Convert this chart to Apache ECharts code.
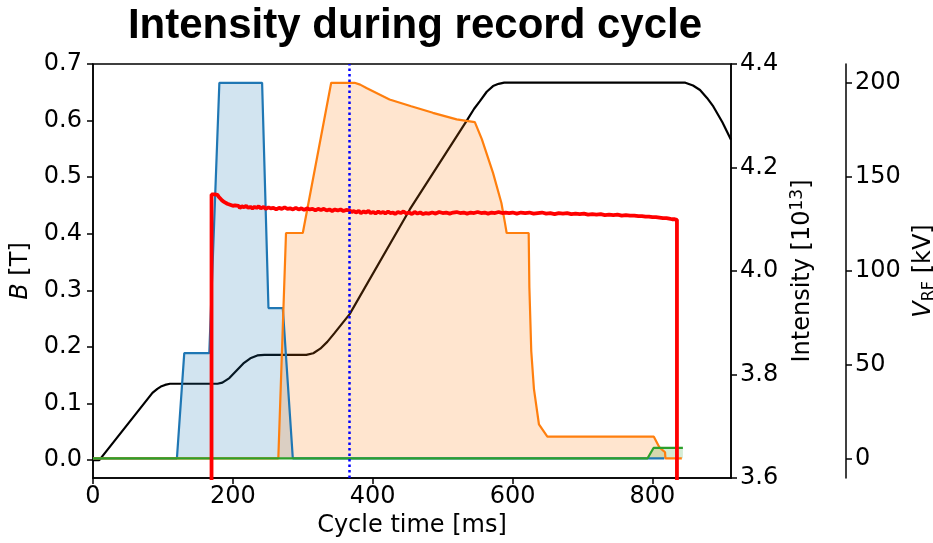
<!DOCTYPE html>
<html>
<head>
<meta charset="utf-8">
<script src="https://cdn.jsdelivr.net/npm/echarts@6/dist/echarts.min.js"></script>
<style>html,body{margin:0;padding:0;background:#fff;}#c{width:933px;height:543px;}</style>
</head>
<body>
<div id="c"></div>
<script>
// ---- data ----
const xTicks = [0, 200, 400, 600, 800];
const bTicks = [0.0, 0.1, 0.2, 0.3, 0.4, 0.5, 0.6, 0.7];
const iTicks = [3.6, 3.8, 4.0, 4.2, 4.4];
const vTicks = [0, 50, 100, 150, 200];

// B field [T]
const bT = [0, 9, 85, 92, 97, 103, 110, 118, 178, 185, 195, 205, 215, 225, 235, 245, 305, 315, 325, 335, 345, 367, 453, 534, 545, 553, 563, 572, 580, 588, 847, 858, 868, 878, 887, 900, 912.3];
const bV = [0, 0, 0.119, 0.126, 0.130, 0.133, 0.135, 0.135, 0.135, 0.137, 0.145, 0.158, 0.171, 0.180, 0.185, 0.186, 0.186, 0.189, 0.197, 0.209, 0.224, 0.258, 0.443, 0.599, 0.621, 0.634, 0.651, 0.661, 0.665, 0.667, 0.667, 0.662, 0.654, 0.640, 0.625, 0.597, 0.566];

// RF voltages [kV]
const blueT = [0, 120, 130.5, 166.3, 180.7, 241.8, 250.9, 271.4, 285.7, 817];
const blueV = [0, 0, 56, 56, 200, 200, 80, 80, 0, 0];
const orangeT = [0, 265, 276, 300, 340.6, 374, 382, 391, 424, 455, 486, 520, 546, 556, 572, 584, 589, 591.5, 623, 624, 626.7, 630.5, 637.7, 649.7, 802, 810, 818, 818.5, 842];
const orangeV = [0, 0, 120, 120, 200, 200, 199, 197.2, 191.1, 187.5, 184, 180.5, 179, 170, 152, 136, 125.5, 120, 120, 91, 57, 37, 18, 11.5, 11.5, 5.8, 3.2, 0, 0];
const greenT = [0, 793, 801.5, 843.5];
const greenV = [0, 0, 5.5, 5.5];

// Intensity [1e13]
const redT = [169.5,169.5,172,174,176,178,180,182,184,186,188,190,192,194,196,198,200,203,205,208,210,213,216,219,222,225,228,231,234,237,240,244,247,251,254,258,262,266,270,274,278,282,286,290,294,298,302,306,310,314,318,322,326,330,334,338,342,346,350,354,358,362,364,367,370,373,376,380,383,387,390,394,397,401,404,408,411,415,418,422,425,429,432,436,440,444,448,452,456,460,464,468,472,476,480,485,490,495,500,505,510,515,520,525,530,535,540,545,550,555,560,565,570,575,580,585,590,595,600,606,612,618,624,630,636,642,648,654,660,666,672,678,684,690,696,702,708,714,720,726,732,738,744,750,756,762,768,774,780,785,790,795,800,805,810,815,820,824,828,832,835,835];
const redI = [3.5,4.148,4.145,4.148,4.146,4.147,4.143,4.140,4.137,4.136,4.133,4.134,4.130,4.131,4.128,4.129,4.126,4.127,4.124,4.126,4.122,4.125,4.123,4.126,4.122,4.124,4.121,4.124,4.122,4.125,4.121,4.124,4.120,4.123,4.121,4.122,4.119,4.122,4.120,4.123,4.120,4.121,4.119,4.122,4.119,4.121,4.118,4.121,4.119,4.120,4.117,4.120,4.118,4.120,4.117,4.119,4.116,4.119,4.117,4.119,4.116,4.118,4.119,4.117,4.114,4.116,4.113,4.116,4.112,4.115,4.113,4.116,4.112,4.114,4.111,4.115,4.112,4.114,4.111,4.115,4.112,4.113,4.110,4.114,4.112,4.115,4.111,4.113,4.110,4.114,4.111,4.113,4.110,4.112,4.111,4.113,4.111,4.114,4.112,4.113,4.111,4.113,4.114,4.112,4.113,4.111,4.113,4.112,4.114,4.112,4.113,4.111,4.113,4.112,4.114,4.112,4.113,4.112,4.113,4.111,4.113,4.112,4.113,4.111,4.112,4.113,4.111,4.112,4.110,4.112,4.111,4.112,4.110,4.111,4.110,4.111,4.109,4.110,4.109,4.110,4.108,4.109,4.108,4.109,4.107,4.108,4.107,4.107,4.106,4.106,4.105,4.105,4.104,4.104,4.103,4.102,4.102,4.101,4.100,4.100,4.099,3.5];

const markerTime = 367;

const zip = (a, b) => a.map((v, i) => [v, b[i]]);
const FONT = 'DejaVu Sans';
const axisCommon = {
  splitLine: { show: false },
  axisLine: { show: true, onZero: false, lineStyle: { color: '#000', width: 1.5 } },
  axisTick: { show: true, inside: false, length: 6, lineStyle: { color: '#000', width: 1.5 } },
  nameLocation: 'middle',
  nameTextStyle: { fontFamily: FONT, fontSize: 24, color: '#000' }
};

const chart = echarts.init(document.getElementById('c'), null, { renderer: 'canvas' });
chart.setOption({
  animation: false,
  backgroundColor: '#fff',
  title: {
    text: 'Intensity during record cycle',
    left: 410, top: 0, textAlign: 'center',
    textStyle: { fontFamily: 'Liberation Sans', fontWeight: 'bold', fontSize: 42, color: '#000' }
  },
  grid: { left: 93, right: 202, top: 64, bottom: 65, show: true, borderColor: '#000', borderWidth: 1.5, backgroundColor: 'transparent', outerBoundsMode: 'none', containLabel: false },
  xAxis: Object.assign({}, axisCommon, {
    type: 'value', min: 0, max: 912.3,
    name: 'Cycle time [ms]', nameGap: 36,
    axisTick: Object.assign({}, axisCommon.axisTick, { customValues: xTicks }),
    axisLabel: { customValues: xTicks, fontFamily: FONT, fontSize: 24, color: '#000', margin: 7 }
  }),
  yAxis: [
    Object.assign({}, axisCommon, {
      type: 'value', position: 'left', min: -0.0315, max: 0.7,
      name: '{i|B} [T]', nameRotate: 90, nameGap: 50,
      nameTextStyle: { fontFamily: FONT, fontSize: 24, color: '#000', rich: { i: { fontFamily: FONT, fontSize: 24, fontStyle: 'italic', color: '#000' } } },
      axisTick: Object.assign({}, axisCommon.axisTick, { customValues: bTicks }),
      axisLabel: { customValues: bTicks, formatter: v => v.toFixed(1), fontFamily: FONT, fontSize: 24, color: '#000', margin: 11 }
    }),
    Object.assign({}, axisCommon, {
      type: 'value', position: 'right', min: 3.6, max: 4.4,
      name: 'Intensity [10{sup|13}]', nameRotate: 90, nameGap: 58,
      nameTextStyle: { fontFamily: FONT, fontSize: 24, color: '#000', rich: { sup: { fontFamily: FONT, fontSize: 17, color: '#000', verticalAlign: 'top', padding: [0, 0, 10, 0] } } },
      axisTick: Object.assign({}, axisCommon.axisTick, { customValues: iTicks }),
      axisLabel: { customValues: iTicks, formatter: v => v.toFixed(1), fontFamily: FONT, fontSize: 24, color: '#000', margin: 9 }
    }),
    Object.assign({}, axisCommon, {
      type: 'value', position: 'right', offset: 115, min: -10.5, max: 210,
      name: '{i|V}{sub|RF} [kV]', nameRotate: 90, nameGap: 53,
      nameTextStyle: { fontFamily: FONT, fontSize: 24, color: '#000', rich: {
        i: { fontFamily: FONT, fontSize: 24, fontStyle: 'italic', color: '#000' },
        sub: { fontFamily: FONT, fontSize: 16, color: '#000', padding: [10, 0, 0, 0] } } },
      axisTick: Object.assign({}, axisCommon.axisTick, { customValues: vTicks }),
      axisLabel: { customValues: vTicks, fontFamily: FONT, fontSize: 24, color: '#000', margin: 9 }
    })
  ],
  series: [
    { name: 'B', type: 'line', yAxisIndex: 0, z: 1, showSymbol: false, symbol: 'none',
      data: zip(bT, bV), lineStyle: { color: '#000', width: 2.2 } },
    { name: 'V1', type: 'line', yAxisIndex: 2, z: 2, symbol: 'none',
      data: zip(blueT, blueV), lineStyle: { color: '#1f77b4', width: 2.2 },
      areaStyle: { color: '#1f77b4', opacity: 0.2 } },
    { name: 'V2', type: 'line', yAxisIndex: 2, z: 2, symbol: 'none',
      data: zip(orangeT, orangeV), lineStyle: { color: '#ff7f0e', width: 2.2 },
      areaStyle: { color: '#ff7f0e', opacity: 0.2 } },
    { name: 'V3', type: 'line', yAxisIndex: 2, z: 2, symbol: 'none',
      data: zip(greenT, greenV), lineStyle: { color: '#2ca02c', width: 2.2 },
      areaStyle: { color: '#2ca02c', opacity: 0.2 } },
    { name: 'marker', type: 'line', yAxisIndex: 0, z: 3, symbol: 'none', data: [],
      markLine: { silent: true, symbol: 'none', label: { show: false },
        lineStyle: { color: '#0000ff', width: 2.5, type: [2.5, 3] },
        data: [{ xAxis: markerTime }] } },
    { name: 'Intensity', type: 'line', yAxisIndex: 1, z: 4, symbol: 'none', clip: true,
      data: zip(redT, redI), lineStyle: { color: '#ff0000', width: 3.8 } }
  ]
});
</script>
</body>
</html>
